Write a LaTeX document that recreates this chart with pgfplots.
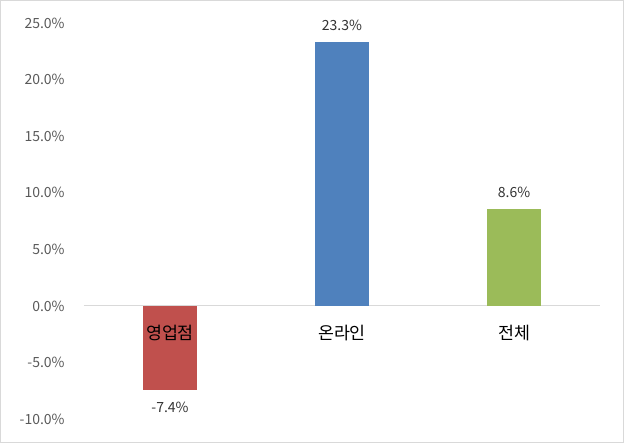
\documentclass[border=0pt]{standalone}
\usepackage{pgfplots}
\pgfplotsset{compat=1.18}
\usepackage{fontspec}
\setmainfont{Noto Sans CJK KR}
\definecolor{cRed}{HTML}{C0504D}
\definecolor{cBlue}{HTML}{4F81BD}
\definecolor{cGreen}{HTML}{9BBB59}
\definecolor{tickgray}{HTML}{595959}
\definecolor{linegray}{HTML}{D9D9D9}

\begin{document}
\begin{tikzpicture}
  \draw[linegray, line width=0.8pt] (-62.6pt,-17.6pt) rectangle (404.6pt,313.9pt);
  \begin{axis}[
      at={(0,0)}, anchor=south west,
      scale only axis,
      width=387pt, height=297pt,
      ybar, bar width=40.5pt,
      xmin=-0.5, xmax=2.5,
      ymin=-10, ymax=25,
      ytick={-10,-5,...,25},
      xtick=\empty,
      axis line style={draw=none},
      ytick style={draw=none},
      major tick length=0pt,
      yticklabel style={font=\fontsize{10.5}{12}\selectfont, text=tickgray, xshift=-11pt,
        /pgf/number format/assume math mode=true},
      yticklabel={\pgfmathprintnumber[fixed,fixed zerofill,precision=1,assume math mode=true]{\tick}\%},
      clip=false,
      nodes near coords={\pgfmathprintnumber[fixed,fixed zerofill,precision=1,assume math mode=true]{\pgfplotspointmeta}\%},
      nodes near coords style={font=\fontsize{10.5}{12}\selectfont, text=black!80},
    ]
    \draw[linegray, line width=0.8pt] (axis cs:-0.5,0) -- (axis cs:2.5,0);
    \addplot[fill=cRed, draw=none, bar shift=0pt,
      every node near coord/.append style={anchor=north, yshift=-6pt}]
      coordinates {(0,-7.4)};
    \addplot[fill=cBlue, draw=none, bar shift=0pt,
      every node near coord/.append style={anchor=south, yshift=5pt}]
      coordinates {(1,23.3)};
    \addplot[fill=cGreen, draw=none, bar shift=0pt,
      every node near coord/.append style={anchor=south, yshift=5pt}]
      coordinates {(2,8.6)};
    \node[font=\fontsize{13}{15}\selectfont] at (axis cs:0,0) [yshift=-20pt] {영업점};
    \node[font=\fontsize{13}{15}\selectfont] at (axis cs:1,0) [yshift=-20pt] {온라인};
    \node[font=\fontsize{13}{15}\selectfont] at (axis cs:2,0) [yshift=-20pt] {전체};
  \end{axis}
\end{tikzpicture}
\end{document}
